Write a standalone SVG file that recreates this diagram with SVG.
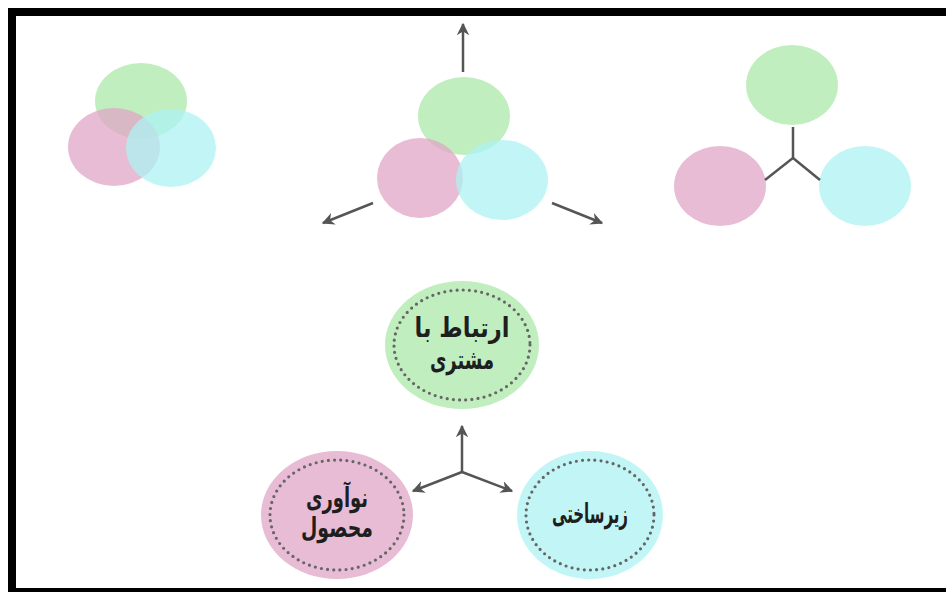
<svg xmlns="http://www.w3.org/2000/svg" width="946" height="592" viewBox="0 0 946 592">
  <style>
    .g { fill: #abe8a8; }
    .p { fill: #e0a6c6; }
    .c { fill: #aef3f3; }
    .soft { fill-opacity: 0.75; }
    .link { stroke: #555; stroke-width: 2.5; fill: none; }
    .arrow { stroke: #555; stroke-width: 2.5; fill: none; marker-end: url(#head); }
    .dots { fill: none; stroke: #666; stroke-width: 3.2; stroke-dasharray: 0 6.2; stroke-linecap: round; }
    .label { font-family: "DejaVu Sans Condensed", "DejaVu Sans", sans-serif; font-weight: bold; font-size: 27px; fill: #1e1e1e; text-anchor: middle; direction: rtl; }
  </style>
  <defs>
    <marker id="head" viewBox="0 0 10 10" refX="9" refY="5" markerWidth="5" markerHeight="5" orient="auto" markerUnits="strokeWidth">
      <path d="M0,0 L10,5 L0,10 L3,5 Z" fill="#555"/>
    </marker>
  </defs>

  <rect width="946" height="592" fill="#ffffff"/>

  <!-- frame -->
  <g id="frame" fill="#000">
    <rect x="8" y="8" width="938" height="8"/>
    <rect x="8" y="8" width="8" height="584"/>
    <rect x="8" y="588" width="938" height="4"/>
  </g>

  <!-- overlapping trio, top left -->
  <g id="overlap-left">
    <ellipse class="g soft" cx="141" cy="101" rx="46" ry="38"/>
    <ellipse class="p soft" cx="114" cy="147" rx="46" ry="39"/>
    <ellipse class="c soft" cx="171" cy="148" rx="45" ry="39"/>
  </g>

  <!-- trio spreading apart, top middle -->
  <g id="overlap-middle">
    <ellipse class="g soft" cx="464" cy="116" rx="46" ry="39"/>
    <ellipse class="p soft" cx="420" cy="178" rx="43" ry="40"/>
    <ellipse class="c soft" cx="502" cy="180" rx="46" ry="40"/>
  </g>

  <!-- separated trio, top right -->
  <g id="separate-right">
    <ellipse class="g soft" cx="792" cy="85" rx="46" ry="40"/>
    <ellipse class="p soft" cx="720" cy="186" rx="46" ry="40"/>
    <ellipse class="c soft" cx="865" cy="186" rx="46" ry="40"/>
  </g>

  <!-- labelled nodes -->
  <g id="node-customer">
    <ellipse class="g soft" cx="462" cy="345" rx="77" ry="64"/>
    <ellipse class="dots" cx="462" cy="345" rx="68" ry="55"/>
    <text class="label" x="462" y="337" textLength="95" lengthAdjust="spacingAndGlyphs">ارتباط با</text>
    <text class="label" x="462" y="369" textLength="64" lengthAdjust="spacingAndGlyphs">مشتری</text>
  </g>

  <g id="node-innovation">
    <ellipse class="p soft" cx="337" cy="515" rx="76" ry="64"/>
    <ellipse class="dots" cx="337" cy="515" rx="67" ry="55"/>
    <text class="label" x="337" y="507" textLength="62" lengthAdjust="spacingAndGlyphs">نوآوری</text>
    <text class="label" x="337" y="537" textLength="72" lengthAdjust="spacingAndGlyphs">محصول</text>
  </g>

  <g id="node-infrastructure">
    <ellipse class="c soft" cx="590" cy="515" rx="73" ry="64"/>
    <ellipse class="dots" cx="590" cy="515" rx="64" ry="55"/>
    <text class="label" x="590" y="523" textLength="76" lengthAdjust="spacingAndGlyphs">زیرساختی</text>
  </g>

  <!-- connectors -->
  <g id="connectors">
    <line class="arrow" x1="463" y1="72" x2="463" y2="24"/>
    <line class="arrow" x1="373" y1="203" x2="323" y2="223"/>
    <line class="arrow" x1="552" y1="203" x2="602" y2="223"/>

    <polyline class="link" points="793,127 793,158 765,180"/>
    <line class="link" x1="793" y1="158" x2="820" y2="180"/>

    <line class="arrow" x1="462" y1="472" x2="462" y2="426"/>
    <line class="arrow" x1="462" y1="472" x2="413" y2="491"/>
    <line class="arrow" x1="462" y1="472" x2="512" y2="491"/>
  </g>
</svg>
